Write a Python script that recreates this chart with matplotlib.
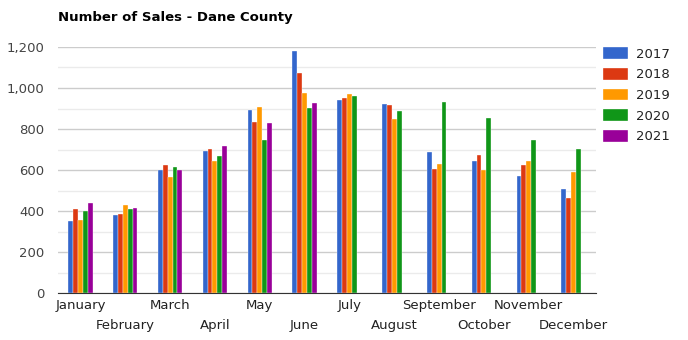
import matplotlib
matplotlib.use("Agg")
import matplotlib.pyplot as plt
import numpy as np
from matplotlib.ticker import MultipleLocator, FixedLocator

months = ["January", "February", "March", "April", "May", "June", "July",
          "August", "September", "October", "November", "December"]
years = ["2017", "2018", "2019", "2020", "2021"]
s2017 = [351, 380, 600, 693, 893, 1180, 941, 922, 688, 644, 571, 507]
s2018 = [410, 387, 624, 702, 834, 1073, 951, 917, 605, 673, 624, 463]
s2019 = [356, 429, 566, 644, 907, 976, 971, 849, 629, 600, 644, 590]
s2020 = [400, 410, 615, 668, 746, 902, 961, 888, 932, 854, 746, 702]
s2021 = [439, 415, 600, 717, 829, 927, None, None, None, None, None, None]
series = [s2017, s2018, s2019, s2020, s2021]
colors = ["#3366CC", "#DC3912", "#FF9900", "#109618", "#990099"]

fig = plt.figure(figsize=(6.88, 3.40), dpi=100)
ax = fig.add_axes([58/688, 47/340, (596-58)/688, (293-47)/340])

x = np.arange(len(months))
w = 0.108
for i, (vals, c, yr) in enumerate(zip(series, colors, years)):
    xs = [xi + (i - 2) * w for xi, v in zip(x, vals) if v is not None]
    vs = [v for v in vals if v is not None]
    ax.bar(xs, vs, width=w, color=c, edgecolor="white", linewidth=0.25, label=yr, zorder=3)

ax.set_xlim(-0.5, 11.5)
ax.set_ylim(0, 1200)
ax.set_yticks(range(0, 1201, 200))
ax.set_yticks(range(100, 1200, 200), minor=True)
ax.set_yticklabels(["0", "200", "400", "600", "800", "1,000", "1,200"])
ax.grid(axis="y", which="major", color="#cccccc", linewidth=1, zorder=0)
ax.grid(axis="y", which="minor", color="#ebebeb", linewidth=1, zorder=0)
ax.tick_params(axis="y", which="both", length=0, labelsize=9.5, colors="#444444", pad=10)

# two-row month labels: even months on major ticks, odd months on minor ticks lower
ax.xaxis.set_major_locator(FixedLocator(x[0::2]))
ax.xaxis.set_minor_locator(FixedLocator(x[1::2]))
ax.set_xticklabels(months[0::2])
ax.set_xticklabels(months[1::2], minor=True)
ax.tick_params(axis="x", which="major", length=0, labelsize=9.5, colors="#222222", pad=4)
ax.tick_params(axis="x", which="minor", length=0, labelsize=9.5, colors="#222222", pad=19)
ax.grid(axis="x", which="both", visible=False)

for sp in ["top", "right", "left"]:
    ax.spines[sp].set_visible(False)
ax.spines["bottom"].set_color("#333333")
ax.spines["bottom"].set_zorder(4)

fig.text(58/688, 1 - 18/340, "Number of Sales - Dane County", fontsize=9.5,
         fontweight="bold", va="center", ha="left", color="#000000")

leg = ax.legend(loc="upper left", bbox_to_anchor=(598/688, 1 - 42/340),
                bbox_transform=fig.transFigure, frameon=False, fontsize=9.5,
                handlelength=1.9, handleheight=1.0, labelspacing=0.55,
                handletextpad=0.6, borderaxespad=0)
for t in leg.get_texts():
    t.set_color("#222222")

fig.savefig("out.png", dpi=100)
